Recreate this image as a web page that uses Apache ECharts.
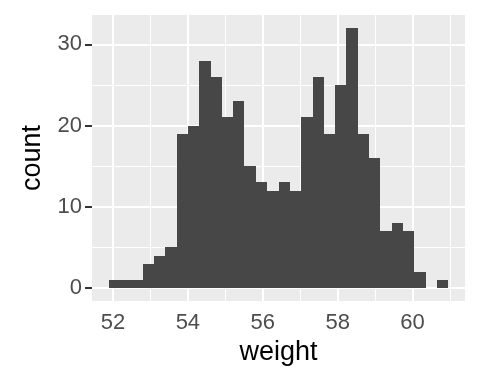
<!DOCTYPE html>
<html>
<head>
<meta charset="utf-8">
<script src="https://cdn.jsdelivr.net/npm/echarts@6/dist/echarts.min.js"></script>
<style>
  html, body { margin: 0; padding: 0; background: #fff; }
  #chart { width: 480px; height: 384px; }
</style>
</head>
<body>
<div id="chart"></div>
<script>
// histogram bins (left edge, right edge) and counts
const binStart = [51.89, 52.19, 52.49, 52.80, 53.10, 53.40, 53.70, 54.00, 54.31, 54.61,
                  54.91, 55.21, 55.51, 55.82, 56.12, 56.42, 56.72, 57.02, 57.33, 57.63,
                  57.93, 58.23, 58.53, 58.84, 59.14, 59.44, 59.74, 60.04, 60.35, 60.65]
const binEnd   = [52.19, 52.49, 52.80, 53.10, 53.40, 53.70, 54.00, 54.31, 54.61, 54.91,
                  55.21, 55.51, 55.82, 56.12, 56.42, 56.72, 57.02, 57.33, 57.63, 57.93,
                  58.23, 58.53, 58.84, 59.14, 59.44, 59.74, 60.04, 60.35, 60.65, 60.95]
const counts   = [1, 1, 1, 3, 4, 5, 19, 20, 28, 26,
                  21, 23, 15, 13, 12, 13, 12, 21, 26, 19,
                  25, 32, 19, 16, 7, 8, 7, 2, 0, 1]

const xTicks = [52, 54, 56, 58, 60]
const xMinor = [53, 55, 57, 59, 61]
const yTicks = [0, 10, 20, 30]
const yMinor = [5, 15, 25]

let myChart = echarts.init(document.getElementById('chart'), null, {renderer: 'canvas'})

let barData = counts.map((c, i) => [binStart[i], binEnd[i], c])

let gridLines = []
xTicks.forEach(v => gridLines.push({xAxis: v, lineStyle: {width: 2}}))
xMinor.forEach(v => gridLines.push({xAxis: v, lineStyle: {width: 1}}))
yTicks.forEach(v => gridLines.push({yAxis: v, lineStyle: {width: 2}}))
yMinor.forEach(v => gridLines.push({yAxis: v, lineStyle: {width: 1}}))

const font = 'Liberation Sans, Arial, Helvetica, sans-serif'

myChart.setOption({
  animation: false,
  grid: {
    left: 92, right: 15, top: 15, bottom: 83,
    show: true, backgroundColor: '#EBEBEB', borderWidth: 0
  },
  xAxis: {
    type: 'value',
    min: 51.44, max: 61.40,
    name: 'weight',
    nameLocation: 'middle',
    nameGap: 38,
    nameTextStyle: {fontSize: 27, color: '#000', fontFamily: font},
    axisLine: {show: false},
    axisTick: {show: true, customValues: xTicks, length: 7, lineStyle: {color: '#333', width: 2}},
    axisLabel: {customValues: xTicks, fontSize: 22, color: '#4D4D4D', margin: 11, fontFamily: font},
    splitLine: {show: false}
  },
  yAxis: {
    type: 'value',
    min: -1.6, max: 33.6,
    name: 'count',
    nameLocation: 'middle',
    nameGap: 46,
    nameRotate: 90,
    nameTextStyle: {fontSize: 27, color: '#000', fontFamily: font},
    axisLine: {show: false},
    axisTick: {show: true, customValues: yTicks, length: 7, lineStyle: {color: '#333', width: 2}},
    axisLabel: {customValues: yTicks, fontSize: 22, color: '#4D4D4D', margin: 10, fontFamily: font},
    splitLine: {show: false}
  },
  series: [
    {
      // panel grid lines, behind the bars
      type: 'line',
      data: [],
      z: 1,
      silent: true,
      markLine: {
        z: 1,
        silent: true,
        animation: false,
        symbol: ['none', 'none'],
        label: {show: false},
        lineStyle: {color: '#FFFFFF', type: 'solid'},
        data: gridLines
      }
    },
    {
      type: 'custom',
      z: 3,
      data: barData,
      encode: {x: [0, 1], y: 2},
      renderItem: function (params, api) {
        let p0 = api.coord([api.value(0), api.value(2)])
        let p1 = api.coord([api.value(1), 0])
        let x0 = Math.round(p0[0]), x1 = Math.round(p1[0])
        let y0 = Math.round(p0[1]), y1 = Math.round(p1[1])
        return {
          type: 'rect',
          shape: {x: x0, y: y0, width: x1 - x0, height: y1 - y0},
          style: {fill: '#474747'}
        }
      }
    }
  ]
})
</script>
</body>
</html>
